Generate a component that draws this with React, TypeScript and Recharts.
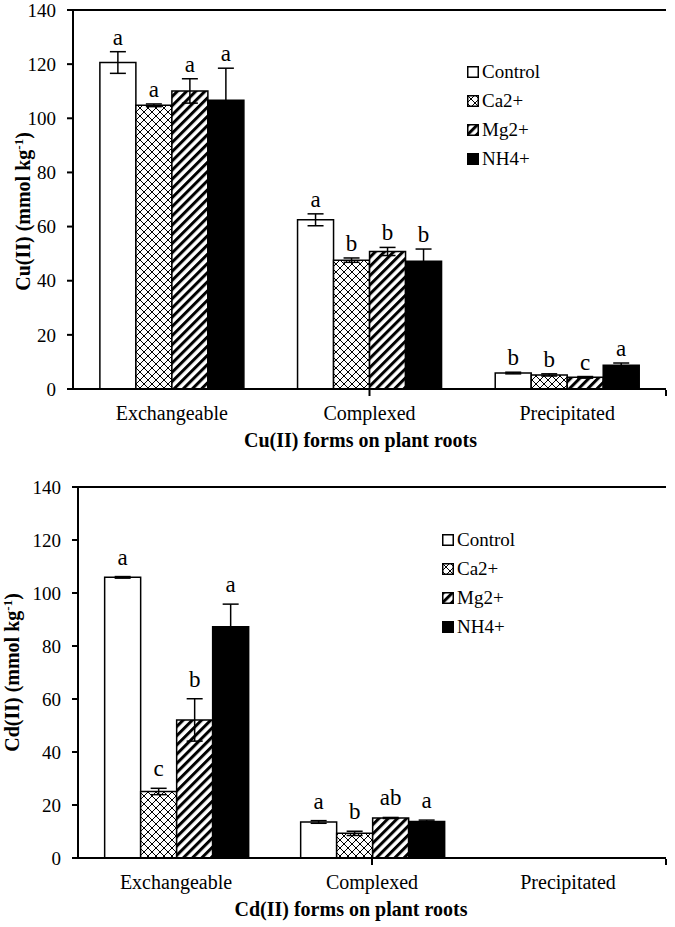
import React from 'react';
import {
  Bar,
  BarChart,
  ErrorBar,
  LabelList,
  Legend,
  ReferenceLine,
  XAxis,
  YAxis,
} from 'recharts';

const CATEGORIES = ['Exchangeable', 'Complexed', 'Precipitated'];
const SERIES = ['Control', 'Ca2+', 'Mg2+', 'NH4+'];
const Y_TICKS = [0, 20, 40, 60, 80, 100, 120, 140];

// Cu(II)
const CU_CONTROL = [120.6, 62.5, 5.9];
const CU_CONTROL_ERR = [4, 2.2, 0.3];
const CU_CONTROL_SIG = ['a', 'a', 'b'];
const CU_CA = [104.8, 47.6, 5.2];
const CU_CA_ERR = [0.5, 0.8, 0.4];
const CU_CA_SIG = ['a', 'b', 'b'];
const CU_MG = [110.1, 50.8, 4.3];
const CU_MG_ERR = [4.5, 1.5, 0.3];
const CU_MG_SIG = ['a', 'b', 'c'];
const CU_NH4 = [106.7, 47.2, 8.8];
const CU_NH4_ERR = [11.8, 4.5, 0.8];
const CU_NH4_SIG = ['a', 'b', 'a'];

// Cd(II)
const CD_CONTROL = [105.9, 13.6, null];
const CD_CONTROL_ERR = [0.3, 0.5, null];
const CD_CONTROL_SIG = ['a', 'a', ''];
const CD_CA = [25.1, 9.3, null];
const CD_CA_ERR = [1.2, 0.8, null];
const CD_CA_SIG = ['c', 'b', ''];
const CD_MG = [52.1, 15.1, null];
const CD_MG_ERR = [8, 0.2, null];
const CD_MG_SIG = ['b', 'ab', ''];
const CD_NH4 = [87.3, 13.8, null];
const CD_NH4_ERR = [8.5, 0.5, null];
const CD_NH4_SIG = ['a', 'a', ''];

const FONT = "'Liberation Serif', 'Times New Roman', serif";
const FILLS = ['#ffffff', 'url(#crossHatch)', 'url(#diagStripe)', '#000000'];
const KEYS = ['control', 'ca', 'mg', 'nh4'];

type Num = number | null;

function buildRows(vals: Num[][], errs: Num[][]) {
  return CATEGORIES.map((name, i) => {
    const row: Record<string, string | Num> = { name };
    KEYS.forEach((k, s) => {
      row[k] = vals[s][i];
      row[k + 'Err'] = errs[s][i];
    });
    return row;
  });
}

const cuRows = buildRows(
  [CU_CONTROL, CU_CA, CU_MG, CU_NH4],
  [CU_CONTROL_ERR, CU_CA_ERR, CU_MG_ERR, CU_NH4_ERR],
);
const cuSig = [CU_CONTROL_SIG, CU_CA_SIG, CU_MG_SIG, CU_NH4_SIG];
const cuErr = [CU_CONTROL_ERR, CU_CA_ERR, CU_MG_ERR, CU_NH4_ERR];

const cdRows = buildRows(
  [CD_CONTROL, CD_CA, CD_MG, CD_NH4],
  [CD_CONTROL_ERR, CD_CA_ERR, CD_MG_ERR, CD_NH4_ERR],
);
const cdSig = [CD_CONTROL_SIG, CD_CA_SIG, CD_MG_SIG, CD_NH4_SIG];
const cdErr = [CD_CONTROL_ERR, CD_CA_ERR, CD_MG_ERR, CD_NH4_ERR];

// letter above bar + error bar
const sigLabel = (errs: Num[], sigs: string[], gap: number) => (props: any) => {
  const { x, y, width, height, index, value } = props;
  if (value == null || !sigs[index]) return null;
  const e = errs[index] ?? 0;
  const errPx = value ? (e * height) / value : 0;
  return (
    <text
      x={x + width / 2}
      y={y - errPx - gap}
      textAnchor="middle"
      fontFamily={FONT}
      fontSize={23}
      fill="#000"
    >
      {sigs[index]}
    </text>
  );
};

// legend keeps series order (recharts would sort by name)
const LegendBox = () => (
  <div style={{ fontFamily: FONT, fontSize: 19, color: '#000' }}>
    {SERIES.map((name, i) => (
      <div key={name} style={{ display: 'flex', alignItems: 'center', height: 29 }}>
        <svg width={12} height={12}>
          <rect x={0.75} y={0.75} width={10.5} height={10.5} fill={FILLS[i]} stroke="#000" strokeWidth={1.5} />
        </svg>
        <span style={{ marginLeft: 3 }}>{name}</span>
      </div>
    ))}
  </div>
);

interface PanelProps {
  rows: Record<string, string | Num>[];
  errs: Num[][];
  sigs: string[][];
  metal: string;
  width: number;
  height: number;
  margin: { top: number; right: number; bottom: number; left: number };
  yAxisWidth: number;
  yLabelX: number;
  yLabelDy: number;
  titleDx: number;
  sigGap: number;
  legendPos: { top: number; left: number };
}

function Panel(p: PanelProps) {
  const yLabel = (props: any) => {
    const vb = props.viewBox;
    const cy = vb.y + vb.height / 2 + p.yLabelDy;
    return (
      <text
        transform={`translate(${p.yLabelX}, ${cy}) rotate(-90)`}
        textAnchor="middle"
        fontFamily={FONT}
        fontWeight="bold"
        fontSize={20}
        fill="#000"
      >
        {p.metal} (mmol kg
        <tspan dy={-7} fontSize={13}>-1</tspan>
        <tspan dy={7}>)</tspan>
      </text>
    );
  };
  const xTitle = (props: any) => {
    const vb = props.viewBox;
    return (
      <text
        x={vb.x + vb.width / 2 + p.titleDx}
        y={vb.y + 58}
        textAnchor="middle"
        fontFamily={FONT}
        fontWeight="bold"
        fontSize={20}
        fill="#000"
      >
        {p.metal} forms on plant roots
      </text>
    );
  };

  return (
    <BarChart
      width={p.width}
      height={p.height}
      data={p.rows}
      margin={p.margin}
      barGap={0}
      barCategoryGap="13.6%"
    >
      <XAxis
        dataKey="name"
        height={1}
        axisLine={{ stroke: '#000', strokeWidth: 2 }}
        tickLine={false}
        tickSize={0}
        tickMargin={17}
        tick={{ fontFamily: FONT, fontSize: 20, fill: '#000' }}
        label={xTitle}
      />
      <XAxis
        xAxisId="edges"
        type="number"
        domain={[0, 3]}
        ticks={[1, 2]}
        allowDataOverflow
        height={1}
        axisLine={false}
        tickLine={{ stroke: '#000', strokeWidth: 2 }}
        tickSize={6}
        tickFormatter={() => ''}
      />
      <YAxis
        width={p.yAxisWidth}
        domain={[0, 140]}
        ticks={Y_TICKS}
        interval={0}
        axisLine={{ stroke: '#000', strokeWidth: 2 }}
        tickLine={{ stroke: '#000', strokeWidth: 2 }}
        tickSize={6}
        tickMargin={11}
        tick={{ fontFamily: FONT, fontSize: 19, fill: '#000' }}
        label={yLabel}
      />
      <ReferenceLine y={140} stroke="#000" strokeWidth={2} />
      <ReferenceLine xAxisId="edges" x={3} stroke="#000" strokeWidth={2} />
      <Legend
        layout="vertical"
        align="center"
        verticalAlign="middle"
        content={<LegendBox />}
        wrapperStyle={{ top: p.legendPos.top, left: p.legendPos.left, width: 'auto', height: 'auto' }}
      />
      {KEYS.map((k, s) => (
        <Bar
          key={k}
          dataKey={k}
          name={SERIES[s]}
          fill={FILLS[s]}
          stroke="#000"
          strokeWidth={1.5}
          isAnimationActive={false}
        >
          <ErrorBar
            dataKey={k + 'Err'}
            width={8}
            stroke="#000"
            strokeWidth={1.5}
            direction="y"
            isAnimationActive={false}
          />
          <LabelList dataKey={k} content={sigLabel(p.errs[s], p.sigs[s], p.sigGap)} />
        </Bar>
      ))}
    </BarChart>
  );
}

export default function App() {
  return (
    <div style={{ position: 'absolute', left: 0, top: 0, width: 675, height: 927, background: '#fff' }}>
      <svg width={0} height={0} style={{ position: 'absolute' }}>
        <defs>
          <pattern id="crossHatch" patternUnits="userSpaceOnUse" width={8} height={8}>
            <rect width={8} height={8} fill="#fff" />
            <path d="M0,0 L8,8 M8,0 L0,8" stroke="#000" strokeWidth={1} />
          </pattern>
          <pattern id="diagStripe" patternUnits="userSpaceOnUse" width={6.5} height={6.5} patternTransform="rotate(45)">
            <rect width={6.5} height={6.5} fill="#fff" />
            <rect width={3} height={6.5} fill="#000" />
          </pattern>
        </defs>
      </svg>
      <div style={{ position: 'absolute', left: 0, top: 0 }}>
        <Panel
          rows={cuRows}
          errs={cuErr}
          sigs={cuSig}
          metal="Cu(II)"
          width={675}
          height={460}
          margin={{ top: 10, right: 9, bottom: 69, left: 0 }}
          yAxisWidth={73}
          yLabelX={30}
          yLabelDy={12}
          titleDx={-9}
          sigGap={7}
          legendPos={{ top: 57, left: 467 }}
        />
      </div>
      <div style={{ position: 'absolute', left: 0, top: 460 }}>
        <Panel
          rows={cdRows}
          errs={cdErr}
          sigs={cdSig}
          metal="Cd(II)"
          width={675}
          height={467}
          margin={{ top: 27, right: 9, bottom: 67, left: 0 }}
          yAxisWidth={78}
          yLabelX={19}
          yLabelDy={0}
          titleDx={-21}
          sigGap={12}
          legendPos={{ top: 65, left: 442 }}
        />
      </div>
    </div>
  );
}
